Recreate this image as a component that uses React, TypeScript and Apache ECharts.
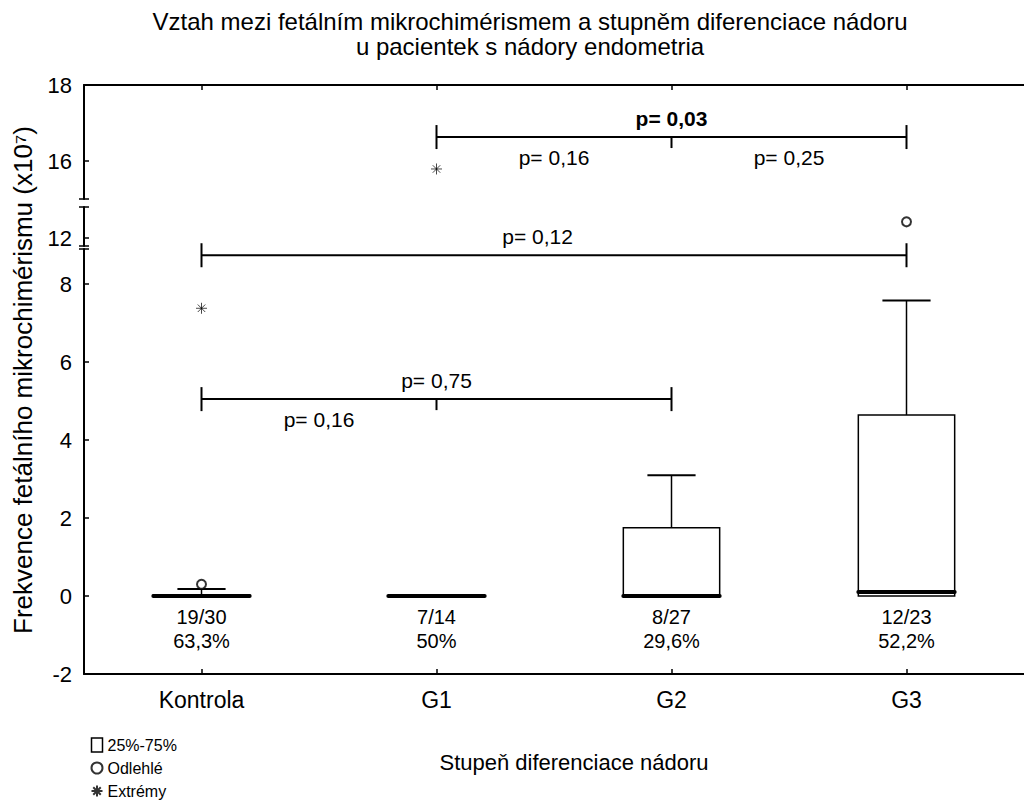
import React, { useEffect, useRef } from "react";
import * as echarts from "echarts";

const FONT = "'Liberation Sans', Arial, sans-serif";

// ---- data ----
const categories = ["Kontrola", "G1", "G2", "G3"];
const categoryPos = [1, 2, 3, 4];
const whiskerLow = [0, 0, 0, 0];
const quartile1 = [0, 0, 0, 0];
const medians = [0, 0, 0, 0.1];
const quartile3 = [0.03, 0, 1.75, 4.64];
const whiskerHigh = [0.18, 0, 3.1, 7.58];
const outlierX = [1, 4];
const outlierY = [0.3, 12.42];
const extremeX = [1, 2];
const extremeY = [7.38, 15.79];
const counts = ["19/30", "7/14", "8/27", "12/23"];
const percents = ["63,3%", "50%", "29,6%", "52,2%"];

// significance brackets
const bracketFrom = [1, 1, 2];
const bracketTo = [3, 4, 4];
const bracketMid = [2, 0, 3];
const bracketY = [5.05, 8.74, 16.63];
const bracketLabels = ["p= 0,75", "p= 0,12", "p= 0,03"];
const bracketLabelX = [2, 2.43, 3];
const bracketBold = [false, false, true];
const subLabels = [["p= 0,16"], [], ["p= 0,16", "p= 0,25"]];
const subLabelX = [[1.5], [], [2.5, 3.5]];

// broken y axis segments (top, middle, main)
const segMin = [15, 11.8, -2];
const segMax = [18, 12.8, 8.9];
const segLabels = [[16, 18], [12], [-2, 0, 2, 4, 6, 8]];
const segInnerTicks = [[15, 16], [11.8, 12, 12.8], [0, 2, 4, 6, 8, 8.9]];
const segCapTicks = [[15], [11.8, 12.8], [8.9]];

function segOf(v: number) {
  if (v >= segMin[0]) return 0;
  if (v >= segMin[1]) return 1;
  return 2;
}

const ASTERISK = "path://M5,0L5,10M0,5L10,5M1.6,1.6L8.4,8.4M8.4,1.6L1.6,8.4";

export default function App() {
  const ref = useRef<HTMLDivElement>(null);
  useEffect(() => {
    document.body.style.margin = "0";
    const chart = echarts.init(ref.current!, null, { renderer: "svg" });

    const grids = [
      { left: 84, width: 947, top: 85, height: 114 },
      { left: 84, width: 947, top: 207, height: 39 },
      { left: 84, width: 947, top: 249, height: 425 },
    ];
    const axisLine = { show: true, onZero: false, lineStyle: { color: "#000", width: 2 } };

    const xAxis = [0, 1, 2].map((i) => ({
      type: "value",
      gridIndex: i,
      min: 0.5,
      max: 4.5,
      position: i === 2 ? "bottom" : "top",
      show: i !== 1,
      axisLine,
      axisTick: {
        show: true,
        inside: true,
        length: 5,
        lineStyle: { color: "#000", width: 1.5 },
        customValues: categoryPos,
      },
      axisLabel:
        i === 2
          ? {
              show: true,
              customValues: categoryPos,
              formatter: (v: number) => categories[Math.round(v) - 1] ?? "",
              fontSize: 23,
              color: "#000",
              fontFamily: FONT,
              margin: 14,
            }
          : { show: false },
      splitLine: { show: false },
    }));

    const mainY = [0, 1, 2].map((i) => ({
      type: "value",
      gridIndex: i,
      min: segMin[i],
      max: segMax[i],
      position: "left",
      axisLine,
      axisTick: {
        show: true,
        inside: true,
        length: 5,
        lineStyle: { color: "#000", width: 1.5 },
        customValues: segInnerTicks[i],
      },
      axisLabel: {
        show: true,
        customValues: segLabels[i],
        fontSize: 22,
        color: "#000",
        fontFamily: FONT,
        margin: 12,
      },
      splitLine: { show: false },
    }));
    const capY = [0, 1, 2].map((i) => ({
      type: "value",
      gridIndex: i,
      min: segMin[i],
      max: segMax[i],
      position: "left",
      offset: 0,
      axisLine: { show: false, onZero: false },
      axisTick: {
        show: true,
        inside: false,
        length: 5,
        lineStyle: { color: "#000", width: 1.5 },
        customValues: segCapTicks[i],
      },
      axisLabel: { show: false },
      splitLine: { show: false },
    }));

    const boxData = categoryPos.map((x, i) => [
      x,
      whiskerLow[i],
      quartile1[i],
      medians[i],
      quartile3[i],
      whiskerHigh[i],
    ]);

    const scatterSeries: any[] = [];
    [0, 1, 2].forEach((s) => {
      const od = outlierX
        .map((x, i) => [x, outlierY[i]])
        .filter((p) => segOf(p[1]) === s);
      if (od.length)
        scatterSeries.push({
          type: "scatter",
          name: "Odlehlé",
          xAxisIndex: s,
          yAxisIndex: s,
          symbol: "emptyCircle",
          symbolSize: 9,
          itemStyle: { color: "#000", borderColor: "#000", borderWidth: 1.2 },
          data: od,
          z: 5,
        });
      const ex = extremeX
        .map((x, i) => [x, extremeY[i]])
        .filter((p) => segOf(p[1]) === s);
      if (ex.length)
        scatterSeries.push({
          type: "scatter",
          name: "Extrémy",
          xAxisIndex: s,
          yAxisIndex: s,
          symbol: ASTERISK,
          symbolSize: 11,
          itemStyle: { color: "none", borderColor: "#000", borderWidth: 0.9 },
          data: ex,
          z: 5,
        });
    });

    const bracketRender = (params: any, api: any) => {
      const idx = api.value(4);
      const yv = api.value(3);
      const p1 = api.coord([api.value(0), yv]);
      const p2 = api.coord([api.value(1), yv]);
      const y = p1[1];
      const stroke = { stroke: "#000", lineWidth: 2 };
      const children: any[] = [
        { type: "line", shape: { x1: p1[0], y1: y, x2: p2[0], y2: y }, style: stroke },
        { type: "line", shape: { x1: p1[0], y1: y - 12, x2: p1[0], y2: y + 12 }, style: stroke },
        { type: "line", shape: { x1: p2[0], y1: y - 12, x2: p2[0], y2: y + 12 }, style: stroke },
      ];
      const mid = api.value(2);
      if (mid > 0) {
        const m = api.coord([mid, yv])[0];
        children.push({ type: "line", shape: { x1: m, y1: y, x2: m, y2: y + 11 }, style: stroke });
      }
      const lx = api.coord([bracketLabelX[idx], yv])[0];
      children.push({
        type: "text",
        style: {
          text: bracketLabels[idx],
          x: lx,
          y: y - 19,
          align: "center",
          verticalAlign: "middle",
          fontSize: 21,
          fontWeight: bracketBold[idx] ? "bold" : "normal",
          fontFamily: FONT,
          fill: "#000",
        },
      });
      subLabels[idx].forEach((t, k) => {
        const sx = api.coord([subLabelX[idx][k], yv])[0];
        children.push({
          type: "text",
          style: {
            text: t,
            x: sx,
            y: y + 20,
            align: "center",
            verticalAlign: "middle",
            fontSize: 21,
            fontFamily: FONT,
            fill: "#000",
          },
        });
      });
      return { type: "group", children };
    };

    const bracketData = bracketFrom.map((f, i) => [f, bracketTo[i], bracketMid[i], bracketY[i], i]);

    const option: any = {
      animation: false,
      backgroundColor: "#fff",
      textStyle: { fontFamily: FONT },
      grid: grids,
      xAxis,
      yAxis: [...mainY, ...capY],
      legend: {
        orient: "vertical",
        left: 89,
        top: 737,
        padding: 0,
        itemGap: 7,
        itemWidth: 11,
        itemHeight: 14,
        selectedMode: false,
        textStyle: { fontSize: 16, lineHeight: 16, color: "#000", fontFamily: FONT, padding: [0, 0, 0, 0] },
        data: [
          {
            name: "25%-75%",
            icon: "rect",
            itemStyle: { color: "#fff", borderColor: "#000", borderWidth: 1.5 },
          },
          { name: "Odlehlé", icon: "emptyCircle" },
          { name: "Extrémy", icon: ASTERISK },
        ],
      },
      graphic: [
        {
          type: "text",
          x: 530,
          y: 9,
          style: {
            text: "Vztah mezi fetálním mikrochimérismem a stupněm diferenciace nádoru\nu pacientek s nádory endometria",
            align: "center",
            textAlign: "center",
            fontSize: 24,
            lineHeight: 25,
            fontFamily: FONT,
            fill: "#000",
          },
        },
        {
          type: "text",
          x: 23,
          y: 380,
          rotation: Math.PI / 2,
          style: {
            text: "Frekvence fetálního mikrochimérismu (x10⁷)",
            align: "center",
            verticalAlign: "middle",
            textAlign: "center",
            textVerticalAlign: "middle",
            fontSize: 26,
            fontFamily: FONT,
            fill: "#000",
          },
        },
        {
          type: "text",
          x: 574,
          y: 762,
          style: {
            text: "Stupeň diferenciace nádoru",
            align: "center",
            verticalAlign: "middle",
            textAlign: "center",
            textVerticalAlign: "middle",
            fontSize: 22,
            fontFamily: FONT,
            fill: "#000",
          },
        },
      ],
      series: [
        {
          type: "custom",
          name: "25%-75%",
          xAxisIndex: 2,
          yAxisIndex: 2,
          clip: false,
          itemStyle: { color: "#fff", borderColor: "#000" },
          encode: { x: 0, y: [1, 2, 3, 4, 5] },
          data: boxData,
          renderItem: (params: any, api: any) => {
            const x = api.value(0);
            const w = api.size([0.41, 0])[0];
            const pQ1 = api.coord([x, api.value(2)]);
            const pMed = api.coord([x, api.value(3)]);
            const pQ3 = api.coord([x, api.value(4)]);
            const pHigh = api.coord([x, api.value(5)]);
            const cx = pQ1[0];
            return {
              type: "group",
              children: [
                {
                  type: "line",
                  shape: { x1: cx, y1: pQ3[1], x2: cx, y2: pHigh[1] },
                  style: { stroke: "#000", lineWidth: 1.5 },
                },
                {
                  type: "line",
                  shape: { x1: cx - w / 4, y1: pHigh[1], x2: cx + w / 4, y2: pHigh[1] },
                  style: { stroke: "#000", lineWidth: 2 },
                },
                {
                  type: "rect",
                  shape: { x: cx - w / 2, y: pQ3[1], width: w, height: pQ1[1] - pQ3[1] },
                  style: { fill: "#fff", stroke: "#000", lineWidth: 1.5 },
                },
                {
                  type: "line",
                  shape: { x1: cx - w / 2, y1: pMed[1], x2: cx + w / 2, y2: pMed[1] },
                  style: { stroke: "#000", lineWidth: 4, lineCap: "round" },
                },
              ],
            };
          },
        },
        ...scatterSeries,
        {
          type: "custom",
          name: "brackets-main",
          xAxisIndex: 2,
          yAxisIndex: 2,
          clip: false,
          data: bracketData.filter((d) => segOf(d[3]) === 2),
          renderItem: bracketRender,
        },
        {
          type: "custom",
          name: "brackets-top",
          xAxisIndex: 0,
          yAxisIndex: 0,
          clip: false,
          data: bracketData.filter((d) => segOf(d[3]) === 0),
          renderItem: bracketRender,
        },
        {
          type: "custom",
          name: "counts",
          xAxisIndex: 2,
          yAxisIndex: 2,
          clip: false,
          data: categoryPos.map((x, i) => [x, i]),
          renderItem: (params: any, api: any) => {
            const i = api.value(1);
            const p1 = api.coord([api.value(0), -0.54]);
            const p2 = api.coord([api.value(0), -1.15]);
            const st = {
              align: "center",
              verticalAlign: "middle",
              fontSize: 20,
              fontFamily: FONT,
              fill: "#000",
            };
            return {
              type: "group",
              children: [
                { type: "text", style: { ...st, text: counts[i], x: p1[0], y: p1[1] } },
                { type: "text", style: { ...st, text: percents[i], x: p2[0], y: p2[1] } },
              ],
            };
          },
        },
      ],
    };
    chart.setOption(option);
    return () => chart.dispose();
  }, []);
  return (
    <div
      ref={ref}
      style={{ position: "absolute", left: 0, top: 0, width: 1024, height: 803 }}
    />
  );
}
